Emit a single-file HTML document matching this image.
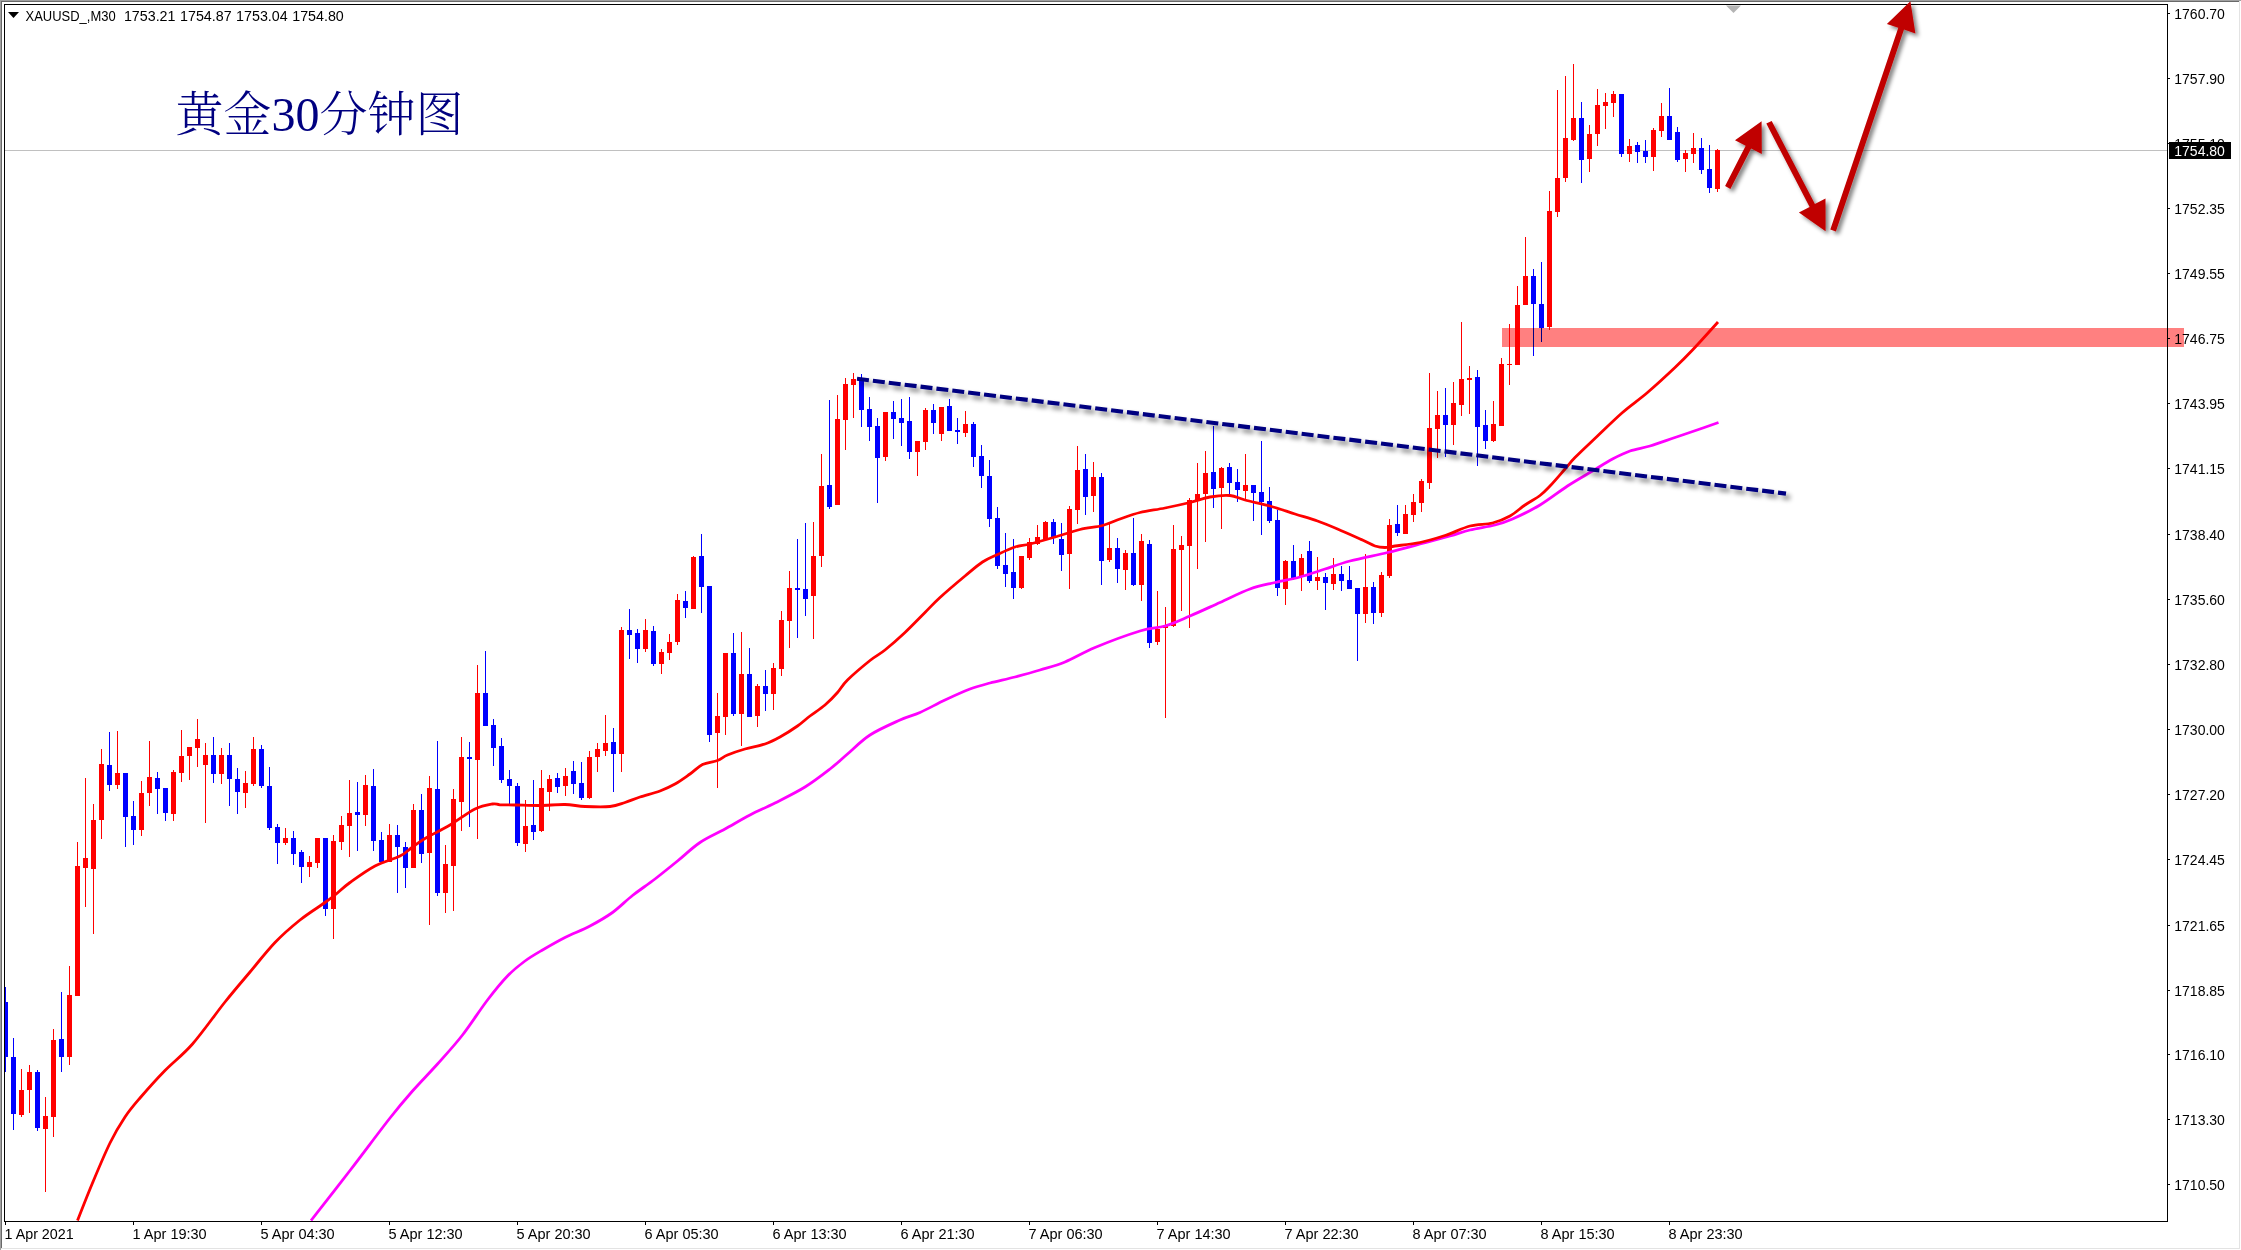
<!DOCTYPE html>
<html lang="zh"><head><meta charset="utf-8"><title>XAUUSD M30</title>
<style>html,body{margin:0;padding:0;background:#fff;overflow:hidden}svg{display:block}text{font-family:"Liberation Sans","Noto Sans CJK SC",sans-serif;font-size:14px;fill:#000}.t{font-family:"Liberation Serif","Noto Serif CJK SC",serif;font-size:48px;fill:#000080;font-weight:300}.r{fill:#f00}.b{fill:#00f}</style></head><body>
<svg width="2241" height="1250" viewBox="0 0 2241 1250">
<defs><filter id="sh" x="-20%" y="-20%" width="150%" height="150%"><feGaussianBlur in="SourceAlpha" stdDeviation="2.1"/><feOffset dx="3" dy="3"/><feComponentTransfer><feFuncA type="linear" slope="0.5"/></feComponentTransfer><feMerge><feMergeNode/><feMergeNode in="SourceGraphic"/></feMerge></filter><filter id="sh2" x="-5%" y="-20%" width="110%" height="150%"><feGaussianBlur in="SourceAlpha" stdDeviation="2.4"/><feOffset dx="3.5" dy="4"/><feComponentTransfer><feFuncA type="linear" slope="0.5"/></feComponentTransfer><feMerge><feMergeNode/><feMergeNode in="SourceGraphic"/></feMerge></filter><clipPath id="cp"><rect x="5" y="5" width="2162" height="1216"/></clipPath></defs>
<rect width="2241" height="1250" fill="#fff"/>
<rect x="0" y="0" width="2241" height="1" fill="#a0a0a0"/><rect x="0" y="0" width="1" height="1250" fill="#a0a0a0"/>
<rect x="1" y="1" width="2239" height="1" fill="#696969"/><rect x="1" y="1" width="1" height="1248" fill="#696969"/>
<rect x="1" y="1248" width="2239" height="1" fill="#e3e3e3"/><rect x="2239" y="1" width="1" height="1248" fill="#e3e3e3"/>
<rect x="5" y="150" width="2162" height="1" fill="#c0c0c0"/>
<polygon points="1726,5.5 1741,5.5 1733.5,13" fill="#b4b4b4"/>
<g clip-path="url(#cp)" shape-rendering="crispEdges">
<rect class="b" x="5" y="987" width="1" height="85"/><rect class="b" x="3" y="1002" width="5" height="55"/>
<rect class="b" x="13" y="1038" width="1" height="92"/><rect class="b" x="11" y="1057" width="5" height="57"/>
<rect class="r" x="21" y="1069" width="1" height="48"/><rect class="r" x="19" y="1090" width="5" height="25"/>
<rect class="r" x="29" y="1065" width="1" height="48"/><rect class="r" x="27" y="1072" width="5" height="18"/>
<rect class="b" x="37" y="1070" width="1" height="61"/><rect class="b" x="35" y="1072" width="5" height="56"/>
<rect class="r" x="45" y="1097" width="1" height="95"/><rect class="r" x="43" y="1116" width="5" height="13"/>
<rect class="r" x="53" y="1029" width="1" height="108"/><rect class="r" x="51" y="1040" width="5" height="77"/>
<rect class="b" x="61" y="992" width="1" height="80"/><rect class="b" x="59" y="1039" width="5" height="18"/>
<rect class="r" x="69" y="966" width="1" height="99"/><rect class="r" x="67" y="995" width="5" height="62"/>
<rect class="r" x="77" y="842" width="1" height="154"/><rect class="r" x="75" y="866" width="5" height="130"/>
<rect class="r" x="85" y="778" width="1" height="129"/><rect class="r" x="83" y="858" width="5" height="10"/>
<rect class="r" x="93" y="804" width="1" height="130"/><rect class="r" x="91" y="820" width="5" height="49"/>
<rect class="r" x="101" y="749" width="1" height="90"/><rect class="r" x="99" y="764" width="5" height="56"/>
<rect class="b" x="109" y="732" width="1" height="59"/><rect class="b" x="107" y="765" width="5" height="20"/>
<rect class="r" x="117" y="731" width="1" height="58"/><rect class="r" x="115" y="773" width="5" height="12"/>
<rect class="b" x="125" y="773" width="1" height="74"/><rect class="b" x="123" y="773" width="5" height="44"/>
<rect class="b" x="133" y="801" width="1" height="44"/><rect class="b" x="131" y="816" width="5" height="14"/>
<rect class="r" x="141" y="781" width="1" height="55"/><rect class="r" x="139" y="793" width="5" height="37"/>
<rect class="r" x="149" y="741" width="1" height="65"/><rect class="r" x="147" y="777" width="5" height="16"/>
<rect class="b" x="157" y="772" width="1" height="42"/><rect class="b" x="155" y="778" width="5" height="11"/>
<rect class="b" x="165" y="788" width="1" height="33"/><rect class="b" x="163" y="788" width="5" height="25"/>
<rect class="r" x="173" y="770" width="1" height="51"/><rect class="r" x="171" y="772" width="5" height="42"/>
<rect class="r" x="181" y="730" width="1" height="52"/><rect class="r" x="179" y="756" width="5" height="17"/>
<rect class="r" x="189" y="747" width="1" height="33"/><rect class="r" x="187" y="747" width="5" height="9"/>
<rect class="r" x="197" y="719" width="1" height="48"/><rect class="r" x="195" y="739" width="5" height="9"/>
<rect class="r" x="205" y="743" width="1" height="80"/><rect class="r" x="203" y="755" width="5" height="10"/>
<rect class="b" x="213" y="737" width="1" height="46"/><rect class="b" x="211" y="755" width="5" height="19"/>
<rect class="r" x="221" y="748" width="1" height="36"/><rect class="r" x="219" y="755" width="5" height="19"/>
<rect class="b" x="229" y="743" width="1" height="63"/><rect class="b" x="227" y="755" width="5" height="24"/>
<rect class="b" x="237" y="768" width="1" height="46"/><rect class="b" x="235" y="779" width="5" height="13"/>
<rect class="r" x="245" y="771" width="1" height="37"/><rect class="r" x="243" y="783" width="5" height="10"/>
<rect class="r" x="253" y="737" width="1" height="49"/><rect class="r" x="251" y="749" width="5" height="35"/>
<rect class="b" x="261" y="745" width="1" height="43"/><rect class="b" x="259" y="749" width="5" height="37"/>
<rect class="b" x="269" y="767" width="1" height="63"/><rect class="b" x="267" y="786" width="5" height="42"/>
<rect class="b" x="277" y="824" width="1" height="40"/><rect class="b" x="275" y="827" width="5" height="16"/>
<rect class="r" x="285" y="828" width="1" height="17"/><rect class="r" x="283" y="838" width="5" height="5"/>
<rect class="b" x="293" y="831" width="1" height="34"/><rect class="b" x="291" y="838" width="5" height="16"/>
<rect class="b" x="301" y="850" width="1" height="33"/><rect class="b" x="299" y="852" width="5" height="15"/>
<rect class="r" x="309" y="856" width="1" height="21"/><rect class="r" x="307" y="862" width="5" height="5"/>
<rect class="r" x="317" y="838" width="1" height="30"/><rect class="r" x="315" y="838" width="5" height="25"/>
<rect class="b" x="325" y="838" width="1" height="78"/><rect class="b" x="323" y="838" width="5" height="71"/>
<rect class="r" x="333" y="835" width="1" height="104"/><rect class="r" x="331" y="841" width="5" height="68"/>
<rect class="r" x="341" y="816" width="1" height="34"/><rect class="r" x="339" y="825" width="5" height="17"/>
<rect class="r" x="349" y="780" width="1" height="77"/><rect class="r" x="347" y="813" width="5" height="13"/>
<rect class="b" x="357" y="782" width="1" height="69"/><rect class="b" x="355" y="812" width="5" height="3"/>
<rect class="r" x="365" y="775" width="1" height="51"/><rect class="r" x="363" y="785" width="5" height="30"/>
<rect class="b" x="373" y="769" width="1" height="82"/><rect class="b" x="371" y="786" width="5" height="55"/>
<rect class="b" x="381" y="832" width="1" height="30"/><rect class="b" x="379" y="840" width="5" height="22"/>
<rect class="r" x="389" y="824" width="1" height="38"/><rect class="r" x="387" y="835" width="5" height="27"/>
<rect class="b" x="397" y="825" width="1" height="68"/><rect class="b" x="395" y="835" width="5" height="12"/>
<rect class="b" x="405" y="842" width="1" height="46"/><rect class="b" x="403" y="847" width="5" height="21"/>
<rect class="r" x="413" y="804" width="1" height="64"/><rect class="r" x="411" y="810" width="5" height="58"/>
<rect class="b" x="421" y="794" width="1" height="69"/><rect class="b" x="419" y="810" width="5" height="44"/>
<rect class="r" x="429" y="776" width="1" height="149"/><rect class="r" x="427" y="788" width="5" height="65"/>
<rect class="b" x="437" y="741" width="1" height="155"/><rect class="b" x="435" y="789" width="5" height="104"/>
<rect class="r" x="445" y="845" width="1" height="68"/><rect class="r" x="443" y="864" width="5" height="29"/>
<rect class="r" x="453" y="789" width="1" height="122"/><rect class="r" x="451" y="799" width="5" height="67"/>
<rect class="r" x="461" y="737" width="1" height="94"/><rect class="r" x="459" y="757" width="5" height="45"/>
<rect class="b" x="469" y="742" width="1" height="85"/><rect class="b" x="467" y="757" width="5" height="2"/>
<rect class="r" x="477" y="665" width="1" height="174"/><rect class="r" x="475" y="693" width="5" height="67"/>
<rect class="b" x="485" y="651" width="1" height="75"/><rect class="b" x="483" y="693" width="5" height="33"/>
<rect class="b" x="493" y="719" width="1" height="47"/><rect class="b" x="491" y="725" width="5" height="23"/>
<rect class="b" x="501" y="738" width="1" height="45"/><rect class="b" x="499" y="746" width="5" height="34"/>
<rect class="b" x="509" y="770" width="1" height="34"/><rect class="b" x="507" y="779" width="5" height="7"/>
<rect class="b" x="517" y="783" width="1" height="63"/><rect class="b" x="515" y="786" width="5" height="57"/>
<rect class="r" x="525" y="800" width="1" height="52"/><rect class="r" x="523" y="826" width="5" height="18"/>
<rect class="b" x="533" y="780" width="1" height="60"/><rect class="b" x="531" y="825" width="5" height="7"/>
<rect class="r" x="541" y="770" width="1" height="62"/><rect class="r" x="539" y="788" width="5" height="43"/>
<rect class="r" x="549" y="775" width="1" height="36"/><rect class="r" x="547" y="779" width="5" height="13"/>
<rect class="b" x="557" y="773" width="1" height="20"/><rect class="b" x="555" y="778" width="5" height="9"/>
<rect class="r" x="565" y="768" width="1" height="28"/><rect class="r" x="563" y="776" width="5" height="10"/>
<rect class="b" x="573" y="761" width="1" height="33"/><rect class="b" x="571" y="771" width="5" height="13"/>
<rect class="b" x="581" y="762" width="1" height="38"/><rect class="b" x="579" y="783" width="5" height="15"/>
<rect class="r" x="589" y="751" width="1" height="48"/><rect class="r" x="587" y="757" width="5" height="41"/>
<rect class="r" x="597" y="743" width="1" height="29"/><rect class="r" x="595" y="749" width="5" height="8"/>
<rect class="r" x="605" y="715" width="1" height="41"/><rect class="r" x="603" y="743" width="5" height="8"/>
<rect class="b" x="613" y="728" width="1" height="64"/><rect class="b" x="611" y="742" width="5" height="12"/>
<rect class="r" x="621" y="627" width="1" height="145"/><rect class="r" x="619" y="630" width="5" height="124"/>
<rect class="b" x="629" y="609" width="1" height="50"/><rect class="b" x="627" y="630" width="5" height="5"/>
<rect class="b" x="637" y="629" width="1" height="34"/><rect class="b" x="635" y="633" width="5" height="16"/>
<rect class="r" x="645" y="619" width="1" height="33"/><rect class="r" x="643" y="630" width="5" height="19"/>
<rect class="b" x="653" y="626" width="1" height="40"/><rect class="b" x="651" y="631" width="5" height="33"/>
<rect class="r" x="661" y="649" width="1" height="25"/><rect class="r" x="659" y="652" width="5" height="12"/>
<rect class="r" x="669" y="634" width="1" height="26"/><rect class="r" x="667" y="642" width="5" height="11"/>
<rect class="r" x="677" y="594" width="1" height="51"/><rect class="r" x="675" y="600" width="5" height="42"/>
<rect class="b" x="685" y="591" width="1" height="27"/><rect class="b" x="683" y="601" width="5" height="7"/>
<rect class="r" x="693" y="556" width="1" height="53"/><rect class="r" x="691" y="557" width="5" height="52"/>
<rect class="b" x="701" y="534" width="1" height="79"/><rect class="b" x="699" y="556" width="5" height="31"/>
<rect class="b" x="709" y="586" width="1" height="156"/><rect class="b" x="707" y="586" width="5" height="149"/>
<rect class="r" x="717" y="693" width="1" height="95"/><rect class="r" x="715" y="716" width="5" height="17"/>
<rect class="r" x="725" y="653" width="1" height="82"/><rect class="r" x="723" y="653" width="5" height="64"/>
<rect class="b" x="733" y="633" width="1" height="83"/><rect class="b" x="731" y="653" width="5" height="61"/>
<rect class="r" x="741" y="632" width="1" height="114"/><rect class="r" x="739" y="674" width="5" height="40"/>
<rect class="b" x="749" y="648" width="1" height="69"/><rect class="b" x="747" y="674" width="5" height="43"/>
<rect class="r" x="757" y="684" width="1" height="43"/><rect class="r" x="755" y="686" width="5" height="30"/>
<rect class="b" x="765" y="670" width="1" height="41"/><rect class="b" x="763" y="686" width="5" height="8"/>
<rect class="r" x="773" y="663" width="1" height="47"/><rect class="r" x="771" y="668" width="5" height="26"/>
<rect class="r" x="781" y="611" width="1" height="65"/><rect class="r" x="779" y="620" width="5" height="49"/>
<rect class="r" x="789" y="571" width="1" height="77"/><rect class="r" x="787" y="588" width="5" height="33"/>
<rect class="b" x="797" y="539" width="1" height="99"/><rect class="b" x="795" y="588" width="5" height="2"/>
<rect class="b" x="805" y="523" width="1" height="93"/><rect class="b" x="803" y="589" width="5" height="10"/>
<rect class="r" x="813" y="522" width="1" height="117"/><rect class="r" x="811" y="556" width="5" height="40"/>
<rect class="r" x="821" y="454" width="1" height="113"/><rect class="r" x="819" y="486" width="5" height="70"/>
<rect class="b" x="829" y="400" width="1" height="109"/><rect class="b" x="827" y="485" width="5" height="22"/>
<rect class="r" x="837" y="395" width="1" height="110"/><rect class="r" x="835" y="419" width="5" height="86"/>
<rect class="r" x="845" y="378" width="1" height="72"/><rect class="r" x="843" y="384" width="5" height="36"/>
<rect class="r" x="853" y="373" width="1" height="45"/><rect class="r" x="851" y="379" width="5" height="6"/>
<rect class="b" x="861" y="374" width="1" height="53"/><rect class="b" x="859" y="378" width="5" height="32"/>
<rect class="b" x="869" y="397" width="1" height="44"/><rect class="b" x="867" y="409" width="5" height="18"/>
<rect class="b" x="877" y="418" width="1" height="85"/><rect class="b" x="875" y="426" width="5" height="32"/>
<rect class="r" x="885" y="412" width="1" height="49"/><rect class="r" x="883" y="412" width="5" height="45"/>
<rect class="b" x="893" y="401" width="1" height="38"/><rect class="b" x="891" y="412" width="5" height="7"/>
<rect class="b" x="901" y="399" width="1" height="47"/><rect class="b" x="899" y="418" width="5" height="5"/>
<rect class="b" x="909" y="397" width="1" height="62"/><rect class="b" x="907" y="421" width="5" height="31"/>
<rect class="r" x="917" y="441" width="1" height="35"/><rect class="r" x="915" y="441" width="5" height="11"/>
<rect class="r" x="925" y="408" width="1" height="42"/><rect class="r" x="923" y="410" width="5" height="32"/>
<rect class="b" x="933" y="404" width="1" height="30"/><rect class="b" x="931" y="410" width="5" height="13"/>
<rect class="r" x="941" y="407" width="1" height="34"/><rect class="r" x="939" y="407" width="5" height="27"/>
<rect class="b" x="949" y="399" width="1" height="32"/><rect class="b" x="947" y="406" width="5" height="25"/>
<rect class="b" x="957" y="418" width="1" height="26"/><rect class="b" x="955" y="430" width="5" height="2"/>
<rect class="r" x="965" y="411" width="1" height="26"/><rect class="r" x="963" y="424" width="5" height="9"/>
<rect class="b" x="973" y="422" width="1" height="45"/><rect class="b" x="971" y="424" width="5" height="33"/>
<rect class="b" x="981" y="445" width="1" height="43"/><rect class="b" x="979" y="456" width="5" height="20"/>
<rect class="b" x="989" y="460" width="1" height="67"/><rect class="b" x="987" y="476" width="5" height="43"/>
<rect class="b" x="997" y="507" width="1" height="62"/><rect class="b" x="995" y="518" width="5" height="48"/>
<rect class="b" x="1005" y="533" width="1" height="54"/><rect class="b" x="1003" y="565" width="5" height="9"/>
<rect class="b" x="1013" y="539" width="1" height="60"/><rect class="b" x="1011" y="572" width="5" height="16"/>
<rect class="r" x="1021" y="556" width="1" height="33"/><rect class="r" x="1019" y="556" width="5" height="32"/>
<rect class="r" x="1029" y="538" width="1" height="22"/><rect class="r" x="1027" y="542" width="5" height="16"/>
<rect class="r" x="1037" y="525" width="1" height="20"/><rect class="r" x="1035" y="537" width="5" height="7"/>
<rect class="r" x="1045" y="521" width="1" height="18"/><rect class="r" x="1043" y="522" width="5" height="17"/>
<rect class="b" x="1053" y="519" width="1" height="25"/><rect class="b" x="1051" y="522" width="5" height="15"/>
<rect class="b" x="1061" y="523" width="1" height="48"/><rect class="b" x="1059" y="539" width="5" height="16"/>
<rect class="r" x="1069" y="506" width="1" height="83"/><rect class="r" x="1067" y="509" width="5" height="45"/>
<rect class="r" x="1077" y="446" width="1" height="78"/><rect class="r" x="1075" y="470" width="5" height="40"/>
<rect class="b" x="1085" y="454" width="1" height="61"/><rect class="b" x="1083" y="469" width="5" height="28"/>
<rect class="r" x="1093" y="462" width="1" height="50"/><rect class="r" x="1091" y="477" width="5" height="19"/>
<rect class="b" x="1101" y="473" width="1" height="112"/><rect class="b" x="1099" y="477" width="5" height="84"/>
<rect class="r" x="1109" y="524" width="1" height="38"/><rect class="r" x="1107" y="548" width="5" height="12"/>
<rect class="b" x="1117" y="538" width="1" height="45"/><rect class="b" x="1115" y="548" width="5" height="21"/>
<rect class="r" x="1125" y="550" width="1" height="40"/><rect class="r" x="1123" y="553" width="5" height="17"/>
<rect class="b" x="1133" y="518" width="1" height="68"/><rect class="b" x="1131" y="553" width="5" height="32"/>
<rect class="r" x="1141" y="534" width="1" height="67"/><rect class="r" x="1139" y="541" width="5" height="44"/>
<rect class="b" x="1149" y="540" width="1" height="108"/><rect class="b" x="1147" y="544" width="5" height="99"/>
<rect class="r" x="1157" y="591" width="1" height="54"/><rect class="r" x="1155" y="629" width="5" height="13"/>
<rect class="r" x="1165" y="607" width="1" height="111"/><rect class="r" x="1163" y="626" width="5" height="2"/>
<rect class="r" x="1173" y="525" width="1" height="102"/><rect class="r" x="1171" y="549" width="5" height="77"/>
<rect class="r" x="1181" y="536" width="1" height="75"/><rect class="r" x="1179" y="545" width="5" height="5"/>
<rect class="r" x="1189" y="498" width="1" height="130"/><rect class="r" x="1187" y="500" width="5" height="46"/>
<rect class="r" x="1197" y="463" width="1" height="106"/><rect class="r" x="1195" y="494" width="5" height="7"/>
<rect class="r" x="1205" y="451" width="1" height="91"/><rect class="r" x="1203" y="473" width="5" height="21"/>
<rect class="b" x="1213" y="426" width="1" height="82"/><rect class="b" x="1211" y="472" width="5" height="17"/>
<rect class="r" x="1221" y="467" width="1" height="62"/><rect class="r" x="1219" y="468" width="5" height="20"/>
<rect class="b" x="1229" y="463" width="1" height="32"/><rect class="b" x="1227" y="467" width="5" height="16"/>
<rect class="b" x="1237" y="469" width="1" height="33"/><rect class="b" x="1235" y="482" width="5" height="8"/>
<rect class="r" x="1245" y="454" width="1" height="46"/><rect class="r" x="1243" y="485" width="5" height="6"/>
<rect class="b" x="1253" y="485" width="1" height="36"/><rect class="b" x="1251" y="485" width="5" height="8"/>
<rect class="b" x="1261" y="441" width="1" height="94"/><rect class="b" x="1259" y="492" width="5" height="10"/>
<rect class="b" x="1269" y="487" width="1" height="36"/><rect class="b" x="1267" y="501" width="5" height="20"/>
<rect class="b" x="1277" y="510" width="1" height="86"/><rect class="b" x="1275" y="520" width="5" height="68"/>
<rect class="r" x="1285" y="560" width="1" height="45"/><rect class="r" x="1283" y="561" width="5" height="28"/>
<rect class="b" x="1293" y="545" width="1" height="35"/><rect class="b" x="1291" y="561" width="5" height="17"/>
<rect class="r" x="1301" y="554" width="1" height="37"/><rect class="r" x="1299" y="558" width="5" height="19"/>
<rect class="b" x="1309" y="541" width="1" height="42"/><rect class="b" x="1307" y="551" width="5" height="30"/>
<rect class="r" x="1317" y="557" width="1" height="33"/><rect class="r" x="1315" y="577" width="5" height="4"/>
<rect class="b" x="1325" y="573" width="1" height="37"/><rect class="b" x="1323" y="577" width="5" height="6"/>
<rect class="r" x="1333" y="558" width="1" height="32"/><rect class="r" x="1331" y="574" width="5" height="10"/>
<rect class="b" x="1341" y="566" width="1" height="25"/><rect class="b" x="1339" y="574" width="5" height="7"/>
<rect class="b" x="1349" y="566" width="1" height="23"/><rect class="b" x="1347" y="580" width="5" height="9"/>
<rect class="b" x="1357" y="588" width="1" height="73"/><rect class="b" x="1355" y="588" width="5" height="26"/>
<rect class="r" x="1365" y="554" width="1" height="69"/><rect class="r" x="1363" y="587" width="5" height="27"/>
<rect class="b" x="1373" y="582" width="1" height="42"/><rect class="b" x="1371" y="587" width="5" height="26"/>
<rect class="r" x="1381" y="572" width="1" height="45"/><rect class="r" x="1379" y="575" width="5" height="38"/>
<rect class="r" x="1389" y="519" width="1" height="59"/><rect class="r" x="1387" y="525" width="5" height="51"/>
<rect class="b" x="1397" y="505" width="1" height="31"/><rect class="b" x="1395" y="524" width="5" height="9"/>
<rect class="r" x="1405" y="505" width="1" height="29"/><rect class="r" x="1403" y="514" width="5" height="20"/>
<rect class="r" x="1413" y="494" width="1" height="28"/><rect class="r" x="1411" y="502" width="5" height="13"/>
<rect class="r" x="1421" y="479" width="1" height="33"/><rect class="r" x="1419" y="481" width="5" height="22"/>
<rect class="r" x="1429" y="373" width="1" height="116"/><rect class="r" x="1427" y="428" width="5" height="55"/>
<rect class="r" x="1437" y="391" width="1" height="67"/><rect class="r" x="1435" y="415" width="5" height="14"/>
<rect class="b" x="1445" y="388" width="1" height="69"/><rect class="b" x="1443" y="415" width="5" height="10"/>
<rect class="r" x="1453" y="382" width="1" height="63"/><rect class="r" x="1451" y="403" width="5" height="22"/>
<rect class="r" x="1461" y="322" width="1" height="94"/><rect class="r" x="1459" y="379" width="5" height="26"/>
<rect class="r" x="1469" y="366" width="1" height="48"/><rect class="r" x="1467" y="378" width="5" height="2"/>
<rect class="b" x="1477" y="370" width="1" height="96"/><rect class="b" x="1475" y="377" width="5" height="50"/>
<rect class="b" x="1485" y="410" width="1" height="39"/><rect class="b" x="1483" y="425" width="5" height="16"/>
<rect class="r" x="1493" y="401" width="1" height="41"/><rect class="r" x="1491" y="424" width="5" height="17"/>
<rect class="r" x="1501" y="358" width="1" height="68"/><rect class="r" x="1499" y="364" width="5" height="62"/>
<rect class="r" x="1509" y="324" width="1" height="61"/><rect class="r" x="1507" y="364" width="5" height="1"/>
<rect class="r" x="1517" y="286" width="1" height="79"/><rect class="r" x="1515" y="305" width="5" height="60"/>
<rect class="r" x="1525" y="237" width="1" height="68"/><rect class="r" x="1523" y="276" width="5" height="29"/>
<rect class="b" x="1533" y="269" width="1" height="87"/><rect class="b" x="1531" y="276" width="5" height="28"/>
<rect class="b" x="1541" y="262" width="1" height="80"/><rect class="b" x="1539" y="304" width="5" height="24"/>
<rect class="r" x="1549" y="191" width="1" height="139"/><rect class="r" x="1547" y="211" width="5" height="116"/>
<rect class="r" x="1557" y="90" width="1" height="127"/><rect class="r" x="1555" y="178" width="5" height="34"/>
<rect class="r" x="1565" y="76" width="1" height="106"/><rect class="r" x="1563" y="138" width="5" height="40"/>
<rect class="r" x="1573" y="64" width="1" height="77"/><rect class="r" x="1571" y="118" width="5" height="22"/>
<rect class="b" x="1581" y="102" width="1" height="81"/><rect class="b" x="1579" y="118" width="5" height="42"/>
<rect class="r" x="1589" y="125" width="1" height="47"/><rect class="r" x="1587" y="134" width="5" height="25"/>
<rect class="r" x="1597" y="89" width="1" height="57"/><rect class="r" x="1595" y="105" width="5" height="29"/>
<rect class="r" x="1605" y="93" width="1" height="36"/><rect class="r" x="1603" y="102" width="5" height="4"/>
<rect class="r" x="1613" y="91" width="1" height="26"/><rect class="r" x="1611" y="94" width="5" height="9"/>
<rect class="b" x="1621" y="94" width="1" height="63"/><rect class="b" x="1619" y="94" width="5" height="60"/>
<rect class="r" x="1629" y="139" width="1" height="23"/><rect class="r" x="1627" y="146" width="5" height="8"/>
<rect class="b" x="1637" y="142" width="1" height="21"/><rect class="b" x="1635" y="145" width="5" height="7"/>
<rect class="b" x="1645" y="140" width="1" height="23"/><rect class="b" x="1643" y="151" width="5" height="6"/>
<rect class="r" x="1653" y="128" width="1" height="43"/><rect class="r" x="1651" y="130" width="5" height="27"/>
<rect class="r" x="1661" y="103" width="1" height="34"/><rect class="r" x="1659" y="116" width="5" height="15"/>
<rect class="b" x="1669" y="88" width="1" height="52"/><rect class="b" x="1667" y="116" width="5" height="24"/>
<rect class="b" x="1677" y="127" width="1" height="35"/><rect class="b" x="1675" y="132" width="5" height="28"/>
<rect class="r" x="1685" y="150" width="1" height="22"/><rect class="r" x="1683" y="153" width="5" height="6"/>
<rect class="r" x="1693" y="133" width="1" height="30"/><rect class="r" x="1691" y="148" width="5" height="6"/>
<rect class="b" x="1701" y="138" width="1" height="36"/><rect class="b" x="1699" y="148" width="5" height="22"/>
<rect class="b" x="1709" y="145" width="1" height="48"/><rect class="b" x="1707" y="169" width="5" height="19"/>
<rect class="r" x="1717" y="149" width="1" height="43"/><rect class="r" x="1715" y="150" width="5" height="39"/>
</g>
<g clip-path="url(#cp)" fill="none" stroke-width="2.8" stroke-linejoin="round" stroke-linecap="butt">
<path stroke="#f0f" d="M311,1220.5C317.5,1212.2 336.8,1187.6 350,1170.5C363.2,1153.4 379.6,1131.2 390,1118C400.4,1104.8 404.6,1100.0 412.5,1091C420.4,1082.0 429.2,1073.3 437.5,1064C445.8,1054.7 454.2,1045.7 462.5,1035C470.8,1024.3 480.0,1009.8 487.5,1000C495.0,990.2 501.2,982.5 507.5,976C513.8,969.5 519.2,965.3 525,961C530.8,956.7 535.8,953.9 542.5,950C549.2,946.1 557.1,941.5 565,937.5C572.9,933.5 582.1,930.2 590,926C597.9,921.8 605.4,917.6 612.5,912.5C619.6,907.4 625.4,901.1 632.5,895.5C639.6,889.9 647.5,884.8 655,879C662.5,873.2 670.0,867.1 677.5,861C685.0,854.9 692.1,847.8 700,842.5C707.9,837.2 716.7,833.6 725,829C733.3,824.4 741.7,819.3 750,815C758.3,810.7 765.8,807.7 775,803C784.2,798.3 795.8,792.7 805,787C814.2,781.3 822.9,774.5 830,769C837.1,763.5 840.8,759.7 847.5,754C854.2,748.3 861.2,740.7 870,735C878.8,729.3 891.7,723.8 900,720C908.3,716.2 912.5,715.8 920,712.5C927.5,709.2 936.7,703.9 945,700C953.3,696.1 962.5,691.8 970,689C977.5,686.2 982.5,685.0 990,683C997.5,681.0 1006.7,679.2 1015,677C1023.3,674.8 1031.7,672.5 1040,670C1048.3,667.5 1055.8,665.8 1065,662C1074.2,658.2 1082.5,652.7 1095,647.5C1107.5,642.3 1128.3,634.6 1140,631C1151.7,627.4 1156.7,628.5 1165,626C1173.3,623.5 1180.8,619.9 1190,616C1199.2,612.1 1210.0,607.0 1220,602.5C1230.0,598.0 1240.8,592.3 1250,589C1259.2,585.7 1266.7,584.5 1275,582.5C1283.3,580.5 1291.7,579.2 1300,577C1308.3,574.8 1316.7,571.7 1325,569C1333.3,566.3 1339.6,563.8 1350,561C1360.4,558.2 1375.8,555.3 1387.5,552.5C1399.2,549.7 1409.6,546.8 1420,544C1430.4,541.2 1441.7,538.3 1450,536C1458.3,533.7 1462.5,531.8 1470,530C1477.5,528.2 1487.9,526.8 1495,525C1502.1,523.2 1505.0,522.3 1512.5,519C1520.0,515.7 1530.8,510.5 1540,505C1549.2,499.5 1558.8,491.7 1567.5,486C1576.2,480.3 1585.0,475.5 1592.5,471C1600.0,466.5 1606.2,462.3 1612.5,459C1618.8,455.7 1623.8,453.2 1630,451C1636.2,448.8 1642.5,448.2 1650,446C1657.5,443.8 1666.7,440.3 1675,437.5C1683.3,434.7 1692.8,431.5 1700,429C1707.2,426.5 1715.4,423.6 1718.5,422.5"/>
<path stroke="#f00" d="M77.5,1220.5C80.0,1214.2 87.1,1195.9 92.5,1183C97.9,1170.1 104.6,1154.0 110,1143C115.4,1132.0 120.0,1124.5 125,1117C130.0,1109.5 133.3,1105.8 140,1098C146.7,1090.2 156.2,1079.5 165,1070.5C173.8,1061.5 182.5,1055.4 192.5,1044C202.5,1032.6 215.4,1014.0 225,1002C234.6,990.0 241.7,981.9 250,972C258.3,962.1 266.7,951.2 275,942.5C283.3,933.8 291.7,926.7 300,920C308.3,913.3 319.2,906.7 325,902.5C330.8,898.3 330.8,898.3 335,895C339.2,891.7 343.3,887.3 350,882.5C356.7,877.7 366.7,870.4 375,866C383.3,861.6 393.8,859.1 400,856C406.2,852.9 407.8,850.4 412,847.5C416.2,844.6 418.7,842.2 425,838.5C431.3,834.8 441.7,829.9 450,825C458.3,820.1 467.9,812.5 475,809C482.1,805.5 488.3,804.7 492.5,804C496.7,803.3 496.2,804.6 500,804.8C503.8,805.0 508.3,804.9 515,805C521.7,805.1 531.7,805.6 540,805.5C548.3,805.4 557.5,804.3 565,804.5C572.5,804.7 577.5,806.2 585,806.5C592.5,806.8 603.3,807.2 610,806.5C616.7,805.8 620.0,804.1 625,802.5C630.0,800.9 634.2,798.9 640,797C645.8,795.1 654.2,793.2 660,791C665.8,788.8 670.0,786.8 675,784C680.0,781.2 685.4,777.2 690,774C694.6,770.8 697.9,766.8 702.5,764.5C707.1,762.2 713.3,762.1 717.5,760.5C721.7,758.9 722.9,756.9 727.5,755C732.1,753.1 738.8,750.8 745,749C751.2,747.2 759.2,746.0 765,744C770.8,742.0 774.6,740.0 780,737C785.4,734.0 792.5,729.5 797.5,726C802.5,722.5 805.4,719.5 810,716C814.6,712.5 820.4,708.9 825,705C829.6,701.1 833.8,696.7 837.5,692.5C841.2,688.3 842.1,685.3 847.5,680C852.9,674.7 863.8,665.5 870,660.5C876.2,655.5 879.2,654.7 885,650C890.8,645.3 898.3,638.8 905,632.5C911.7,626.2 919.2,618.3 925,612.5C930.8,606.7 933.3,603.6 940,597.5C946.7,591.4 957.9,581.9 965,576C972.1,570.1 977.1,565.6 982.5,562C987.9,558.4 992.1,557.0 997.5,554.5C1002.9,552.0 1009.6,548.8 1015,547C1020.4,545.2 1023.3,545.7 1030,544C1036.7,542.3 1046.7,539.4 1055,537C1063.3,534.6 1072.1,531.4 1080,529.5C1087.9,527.6 1095.8,527.2 1102.5,525.5C1109.2,523.8 1113.8,521.2 1120,519C1126.2,516.8 1132.5,514.3 1140,512.5C1147.5,510.7 1156.7,509.7 1165,508C1173.3,506.3 1182.5,504.3 1190,502.5C1197.5,500.7 1203.3,498.2 1210,497C1216.7,495.8 1224.2,495.0 1230,495.5C1235.8,496.0 1238.3,498.2 1245,500C1251.7,501.8 1261.7,503.7 1270,506C1278.3,508.3 1287.1,511.5 1295,514C1302.9,516.5 1310.4,518.5 1317.5,521C1324.6,523.5 1330.0,525.8 1337.5,529C1345.0,532.2 1356.2,537.2 1362.5,540C1368.8,542.8 1371.2,544.8 1375,546C1378.8,547.2 1381.7,547.5 1385,547.5C1388.3,547.5 1389.2,546.8 1395,546C1400.8,545.2 1411.7,544.2 1420,542.5C1428.3,540.8 1436.7,538.2 1445,535.5C1453.3,532.8 1462.1,528.1 1470,526C1477.9,523.9 1485.8,524.7 1492.5,523C1499.2,521.3 1504.6,519.0 1510,516C1515.4,513.0 1520.0,508.4 1525,505C1530.0,501.6 1535.8,498.7 1540,495.5C1544.2,492.3 1545.8,490.4 1550,486C1554.2,481.6 1560.8,473.8 1565,469C1569.2,464.2 1569.6,463.0 1575,457.5C1580.4,452.0 1589.6,443.5 1597.5,436C1605.4,428.5 1614.2,419.8 1622.5,412.5C1630.8,405.2 1638.8,400.0 1647.5,392.5C1656.2,385.0 1667.5,374.6 1675,367.5C1682.5,360.4 1685.3,357.6 1692.5,350C1699.7,342.4 1713.8,326.7 1718,322"/>
</g>
<rect x="1502" y="328" width="682" height="19" fill="#ff8080" style="mix-blend-mode:multiply"/>
<g shape-rendering="crispEdges" fill="#000"><rect x="4" y="4" width="2164" height="1"/><rect x="4" y="4" width="1" height="1218"/><rect x="4" y="1221" width="2164" height="1"/><rect x="2167" y="4" width="1" height="1218"/>
<rect x="2168" y="13" width="2" height="1"/>
<rect x="2168" y="78" width="2" height="1"/>
<rect x="2168" y="143" width="2" height="1"/>
<rect x="2168" y="208" width="2" height="1"/>
<rect x="2168" y="273" width="2" height="1"/>
<rect x="2168" y="338" width="2" height="1"/>
<rect x="2168" y="403" width="2" height="1"/>
<rect x="2168" y="468" width="2" height="1"/>
<rect x="2168" y="534" width="2" height="1"/>
<rect x="2168" y="599" width="2" height="1"/>
<rect x="2168" y="664" width="2" height="1"/>
<rect x="2168" y="729" width="2" height="1"/>
<rect x="2168" y="794" width="2" height="1"/>
<rect x="2168" y="859" width="2" height="1"/>
<rect x="2168" y="925" width="2" height="1"/>
<rect x="2168" y="990" width="2" height="1"/>
<rect x="2168" y="1054" width="2" height="1"/>
<rect x="2168" y="1119" width="2" height="1"/>
<rect x="2168" y="1184" width="2" height="1"/>
<rect x="5" y="1222" width="1" height="3"/>
<rect x="133" y="1222" width="1" height="3"/>
<rect x="261" y="1222" width="1" height="3"/>
<rect x="389" y="1222" width="1" height="3"/>
<rect x="517" y="1222" width="1" height="3"/>
<rect x="645" y="1222" width="1" height="3"/>
<rect x="773" y="1222" width="1" height="3"/>
<rect x="901" y="1222" width="1" height="3"/>
<rect x="1029" y="1222" width="1" height="3"/>
<rect x="1157" y="1222" width="1" height="3"/>
<rect x="1285" y="1222" width="1" height="3"/>
<rect x="1413" y="1222" width="1" height="3"/>
<rect x="1541" y="1222" width="1" height="3"/>
<rect x="1669" y="1222" width="1" height="3"/>
</g>
<text x="2174.3" y="19">1760.70</text>
<text x="2174.3" y="84">1757.90</text>
<text x="2174.3" y="149">1755.10</text>
<text x="2174.3" y="214">1752.35</text>
<text x="2174.3" y="279">1749.55</text>
<text x="2174.3" y="344">1746.75</text>
<text x="2174.3" y="409">1743.95</text>
<text x="2174.3" y="474">1741.15</text>
<text x="2174.3" y="540">1738.40</text>
<text x="2174.3" y="605">1735.60</text>
<text x="2174.3" y="670">1732.80</text>
<text x="2174.3" y="735">1730.00</text>
<text x="2174.3" y="800">1727.20</text>
<text x="2174.3" y="865">1724.45</text>
<text x="2174.3" y="931">1721.65</text>
<text x="2174.3" y="996">1718.85</text>
<text x="2174.3" y="1060">1716.10</text>
<text x="2174.3" y="1125">1713.30</text>
<text x="2174.3" y="1190">1710.50</text>
<text x="4.5" y="1239" textLength="69.2" lengthAdjust="spacingAndGlyphs">1 Apr 2021</text>
<text x="132.5" y="1239" textLength="74.2" lengthAdjust="spacingAndGlyphs">1 Apr 19:30</text>
<text x="260.5" y="1239" textLength="74.2" lengthAdjust="spacingAndGlyphs">5 Apr 04:30</text>
<text x="388.5" y="1239" textLength="74.2" lengthAdjust="spacingAndGlyphs">5 Apr 12:30</text>
<text x="516.5" y="1239" textLength="74.2" lengthAdjust="spacingAndGlyphs">5 Apr 20:30</text>
<text x="644.5" y="1239" textLength="74.2" lengthAdjust="spacingAndGlyphs">6 Apr 05:30</text>
<text x="772.5" y="1239" textLength="74.2" lengthAdjust="spacingAndGlyphs">6 Apr 13:30</text>
<text x="900.5" y="1239" textLength="74.2" lengthAdjust="spacingAndGlyphs">6 Apr 21:30</text>
<text x="1028.5" y="1239" textLength="74.2" lengthAdjust="spacingAndGlyphs">7 Apr 06:30</text>
<text x="1156.5" y="1239" textLength="74.2" lengthAdjust="spacingAndGlyphs">7 Apr 14:30</text>
<text x="1284.5" y="1239" textLength="74.2" lengthAdjust="spacingAndGlyphs">7 Apr 22:30</text>
<text x="1412.5" y="1239" textLength="74.2" lengthAdjust="spacingAndGlyphs">8 Apr 07:30</text>
<text x="1540.5" y="1239" textLength="74.2" lengthAdjust="spacingAndGlyphs">8 Apr 15:30</text>
<text x="1668.5" y="1239" textLength="74.2" lengthAdjust="spacingAndGlyphs">8 Apr 23:30</text>
<rect x="2169" y="142" width="62" height="17" fill="#000"/><text x="2174.3" y="156" style="fill:#fff">1754.80</text>
<polygon points="8,12 19,12 13.5,18" fill="#000"/>
<text x="25.6" y="21" textLength="90" lengthAdjust="spacingAndGlyphs">XAUUSD_,M30</text>
<text x="123.9" y="21" textLength="51.6" lengthAdjust="spacingAndGlyphs">1753.21</text>
<text x="180.0" y="21" textLength="51.6" lengthAdjust="spacingAndGlyphs">1754.87</text>
<text x="236.1" y="21" textLength="51.6" lengthAdjust="spacingAndGlyphs">1753.04</text>
<text x="292.2" y="21" textLength="51.6" lengthAdjust="spacingAndGlyphs">1754.80</text>
<text class="t" x="175.6" y="130.6">黄金30分钟图</text>
<g filter="url(#sh2)"><line x1="857" y1="378.8" x2="1786" y2="493.6" stroke="#000080" stroke-width="4.1" stroke-dasharray="12 4"/></g>
<g fill="#c00000" filter="url(#sh)">
<polygon points="1730.4,188.9 1751.1,148.4 1761.8,153.9 1761.6,121.2 1735.0,140.2 1745.7,145.7 1725.1,186.1"/>
<polygon points="1766.3,123.6 1809.6,206.9 1798.9,212.4 1825.6,231.2 1825.5,198.6 1814.9,204.1 1771.7,120.9"/>
<polygon points="1835.9,231.6 1904.0,29.6 1915.4,33.5 1910.4,1.2 1886.9,23.9 1898.3,27.7 1830.3,229.6"/>
</g>
</svg></body></html>
